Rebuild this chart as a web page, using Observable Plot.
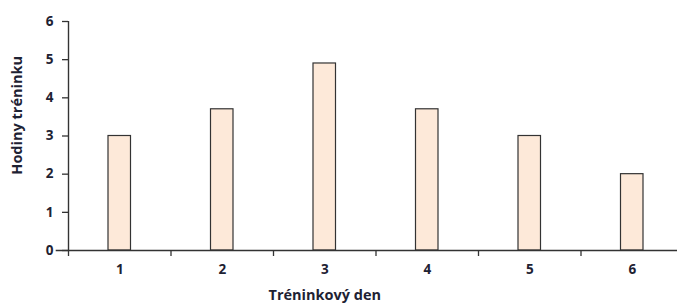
<!DOCTYPE html>
<html>
<head>
<meta charset="utf-8">
<script src="https://cdn.jsdelivr.net/npm/d3@7"></script>
<script src="https://cdn.jsdelivr.net/npm/@observablehq/plot@0.6"></script>
<style>
  html, body { margin: 0; padding: 0; background: #fff; }
</style>
</head>
<body>
<div id="chart"></div>
<script>
const days = [1, 2, 3, 4, 5, 6];
const hours = [3.0, 3.7, 4.9, 3.7, 3.0, 2.0];
const yTicks = [0, 1, 2, 3, 4, 5, 6];
const xLabel = "Tréninkový den";
const yLabel = "Hodiny tréninku";

const data = days.map((d, i) => ({day: d, hours: hours[i]}));
const boundaries = d3.range(0.5, days.length + 1, 1);

const chart = Plot.plot({
  width: 677,
  height: 303,
  marginTop: 21,
  marginBottom: 53,
  marginLeft: 68,
  marginRight: 0,
  style: {fontFamily: "'Open Sans', sans-serif", fontWeight: "bold", fontSize: "13.5px", color: "#1e2233", background: "#fff"},
  x: {type: "linear", domain: [0.5, 6.5], range: [68, 683]},
  y: {domain: [0, 6], range: [250, 21]},
  marks: [
    Plot.rectY(data, {
      x1: d => d.day - 0.5, x2: d => d.day + 0.5, y1: 0, y2: "hours",
      insetLeft: 40, insetRight: 40,
      fill: "#fde9d9", stroke: "#333", strokeWidth: 1.2
    }),
    Plot.ruleX([0.5], {y1: 0, y2: 6, stroke: "#333", strokeWidth: 1.4}),
    Plot.ruleY([0], {x1: 0.38, x2: 6.6, stroke: "#333", strokeWidth: 1.4}),
    Plot.axisY({ticks: yTicks, tickSize: 6, tickPadding: 9, tickFormat: d => d, stroke: "#333", strokeWidth: 1.3,
      fontSize: 13.5, label: null}),
    Plot.axisX({ticks: days, tickSize: 0, tickPadding: 14, tickFormat: d => d, fontSize: 13.5, label: null}),
    Plot.axisX({ticks: boundaries, tickSize: 6, tickFormat: () => "", stroke: "#333", strokeWidth: 1.3, label: null}),
    Plot.text([xLabel], {x: 3, frameAnchor: "bottom", dy: 45, fontSize: 14.5, lineAnchor: "middle"}),
    Plot.text([yLabel], {frameAnchor: "left", dx: -51, y: 3.54, rotate: -90, textAnchor: "middle", fontSize: 14.5, lineAnchor: "middle"})
  ]
});
document.getElementById("chart").appendChild(chart);
</script>
</body>
</html>
